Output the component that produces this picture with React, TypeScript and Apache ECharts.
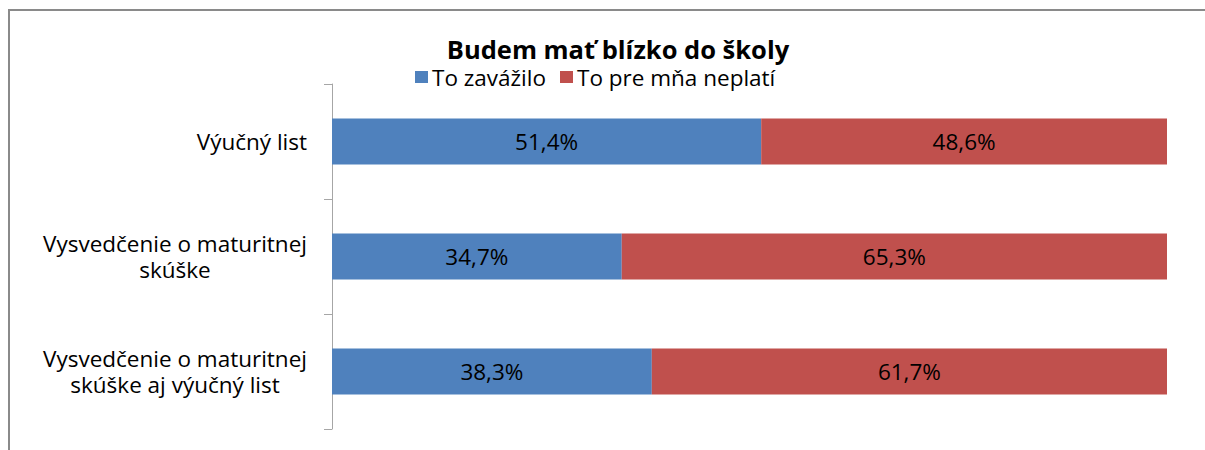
import React, { useEffect, useRef } from "react";
import * as echarts from "echarts";

const categories = [
  "Výučný list",
  "Vysvedčenie o maturitnej skúške",
  "Vysvedčenie o maturitnej skúške aj výučný list",
];
const labelLines = [
  ["Výučný list"],
  ["Vysvedčenie o maturitnej", "skúške"],
  ["Vysvedčenie o maturitnej", "skúške aj výučný list"],
];
const seriesNames = ["To zavážilo", "To pre mňa neplatí"];
const mattered = [51.4, 34.7, 38.3];
const notApplicable = [48.6, 65.3, 61.7];
const colors = ["#4F81BD", "#C0504D"];

const FONT = "'Open Sans', sans-serif";
const LABEL_SIZE = 22.5;

function measure(lines: string[]): number {
  const c = document.createElement("canvas").getContext("2d");
  if (!c) return 263;
  c.font = `${LABEL_SIZE}px 'Open Sans'`;
  return Math.ceil(Math.max(...lines.map((l) => c.measureText(l).width)));
}

export default function App() {
  const ref = useRef<HTMLDivElement>(null);
  useEffect(() => {
    if (!ref.current) return;
    const chart = echarts.init(ref.current, null, { renderer: "svg" });
    const fmt = (p: any) => p.value.toFixed(1).replace(".", ",") + "%";
    const rich: any = {
      s: { fontSize: LABEL_SIZE, lineHeight: 26, fontFamily: FONT, color: "#000" },
    };
    labelLines.forEach((lines, i) => {
      rich["c" + i] = {
        fontSize: LABEL_SIZE,
        lineHeight: 26,
        fontFamily: FONT,
        color: "#000",
        width: measure(lines),
        align: "center",
      };
    });
    chart.setOption({
      animation: false,
      backgroundColor: "#ffffff",
      color: colors,
      textStyle: { fontFamily: FONT },
      title: {
        text: "Budem mať blízko do školy",
        left: 613,
        textAlign: "center",
        top: 31,
        textStyle: { fontSize: 25.5, lineHeight: 26, fontWeight: "bold", color: "#000", fontFamily: FONT },
      },
      legend: {
        left: 410,
        top: 60,
        itemWidth: 13,
        itemHeight: 12,
        itemGap: 14,
        icon: "rect",
        textStyle: { fontSize: LABEL_SIZE, lineHeight: 24, color: "#000", fontFamily: FONT, padding: [0, 0, 0, -1] },
        data: seriesNames,
      },
      graphic: [
        {
          type: "rect",
          shape: { x: 9, y: 10, width: 1400, height: 600 },
          style: { fill: "none", stroke: "#8a8a8a", lineWidth: 2 },
          silent: true,
        },
      ],
      grid: { left: 332, right: 38, top: 84, bottom: 21, containLabel: false },
      xAxis: {
        type: "value",
        min: 0,
        max: 100,
        show: false,
      },
      yAxis: {
        type: "category",
        inverse: true,
        data: categories,
        axisLine: { show: true, lineStyle: { color: "#A6A6A6", width: 1 } },
        axisTick: { show: true, length: 8, lineStyle: { color: "#A6A6A6" } },
        axisLabel: {
          margin: 25,
          fontSize: LABEL_SIZE,
          color: "#000",
          fontFamily: FONT,
          lineHeight: 26,
          formatter: (v: string) => {
            const i = categories.indexOf(v);
            const lines = labelLines[i];
            if (lines.length === 1) return "{s|" + lines[0] + "}";
            return lines.map((l) => "{c" + i + "|" + l + "}").join("\n");
          },
          rich,
        },
      },
      series: [
        {
          name: seriesNames[0],
          type: "bar",
          stack: "total",
          data: mattered,
          barWidth: "40%",
          label: { show: true, position: "inside", formatter: fmt, fontSize: LABEL_SIZE, color: "#000", fontFamily: FONT },
        },
        {
          name: seriesNames[1],
          type: "bar",
          stack: "total",
          data: notApplicable,
          barWidth: "40%",
          label: { show: true, position: "inside", formatter: fmt, fontSize: LABEL_SIZE, color: "#000", fontFamily: FONT },
        },
      ],
    });
    return () => chart.dispose();
  }, []);
  return (
    <div
      ref={ref}
      style={{ position: "absolute", left: 0, top: 0, width: 1205, height: 450 }}
    />
  );
}
